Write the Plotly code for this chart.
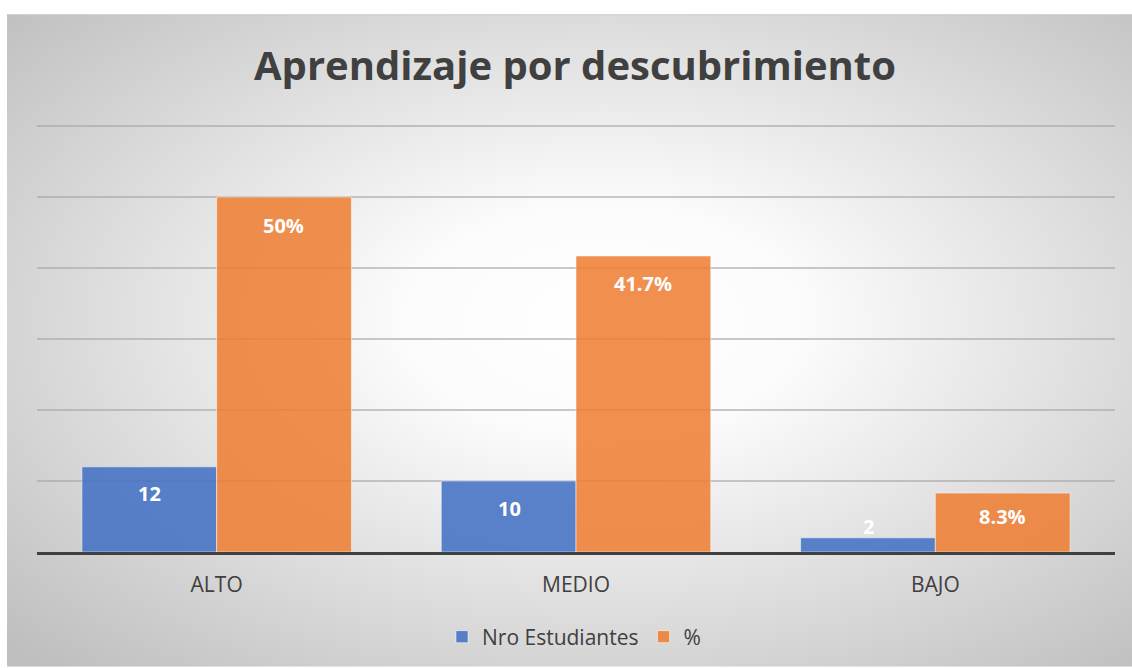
import base64
import plotly.graph_objects as go

categories = ["ALTO", "MEDIO", "BAJO"]
estudiantes = [12, 10, 2]
porcentaje = [50, 41.7, 8.3]
estudiantes_labels = ["12", "10", "2"]
porcentaje_labels = ["50%", "41.7%", "8.3%"]

W, H = 1132, 668
L, R, T, B = 37, 17, 119, 115
pw, ph = W - L - R, H - T - B
BASE = H - B

svg = """<svg xmlns='http://www.w3.org/2000/svg' width='1125' height='654' viewBox='0 0 1125 654' preserveAspectRatio='none'>
<defs><radialGradient id='g' cx='0.53' cy='0.47' r='0.72'>
<stop offset='0' stop-color='#ffffff'/>
<stop offset='0.25' stop-color='#fbfbfb'/>
<stop offset='1' stop-color='#bfbfbf'/>
</radialGradient></defs>
<rect x='0' y='0' width='1125' height='654' fill='url(#g)'/>
<line x1='0' y1='0.5' x2='1125' y2='0.5' stroke='#c8c8c8' stroke-width='1'/>
</svg>"""
src = "data:image/svg+xml;base64," + base64.b64encode(svg.encode()).decode()

blue = "rgba(68,114,196,0.88)"
orange = "rgba(237,125,49,0.86)"

fig = go.Figure()
fig.add_trace(go.Bar(x=categories, y=estudiantes, name="Nro Estudiantes",
                     marker=dict(color=blue, line=dict(color="rgba(255,255,255,0.5)", width=1))))
fig.add_trace(go.Bar(x=categories, y=porcentaje, name="%",
                     marker=dict(color=orange, line=dict(color="rgba(255,255,255,0.5)", width=1))))

shift = 67
yshifts_blue = [-27, -27, 11]
yshifts_orange = [-28, -27, -23]
lab_font = dict(family="Open Sans", size=20, color="white", weight="bold")
for i, c in enumerate(categories):
    fig.add_annotation(x=c, y=estudiantes[i], text=estudiantes_labels[i], showarrow=False,
                       xshift=-shift, yshift=yshifts_blue[i], yanchor="middle", font=lab_font)
    fig.add_annotation(x=c, y=porcentaje[i], text=porcentaje_labels[i], showarrow=False,
                       xshift=shift, yshift=yshifts_orange[i], yanchor="middle", font=lab_font)

fig.add_layout_image(dict(source=src, xref="paper", yref="paper",
                          x=(7 - L) / pw, y=(BASE - 14) / ph,
                          sizex=(W - 7) / pw, sizey=(H - 14) / ph,
                          xanchor="left", yanchor="top", sizing="stretch", layer="below"))

fig.update_layout(
    width=W, height=H,
    margin=dict(l=L, r=R, t=T, b=B, pad=0),
    paper_bgcolor="white", plot_bgcolor="rgba(0,0,0,0)",
    barmode="group", bargap=0.25, bargroupgap=0.0,
    title=dict(text="Aprendizaje por descubrimiento", x=575 / W, xanchor="center",
               y=1 - 66 / H, yanchor="middle", xref="container", yref="container",
               font=dict(family="Open Sans", size=40, color="#404040", weight="bold")),
    showlegend=True,
    legend=dict(orientation="h", x=(574 - L) / pw, xanchor="center",
                y=(BASE - 637) / ph, yanchor="middle",
                font=dict(family="Open Sans", size=21, color="#404040"),
                bgcolor="rgba(0,0,0,0)", itemwidth=30),
    font=dict(family="Open Sans", color="#404040"),
)
fig.update_xaxes(showline=True, linecolor="#404040", linewidth=3, ticks="",
                 tickfont=dict(family="Open Sans", size=21, color="#404040"),
                 ticklabelstandoff=12, showgrid=False)
fig.update_yaxes(range=[0, 61], tickvals=[10, 20, 30, 40, 50, 60], showticklabels=False,
                 showgrid=True, gridcolor="rgba(165,165,165,0.6)", gridwidth=1.5,
                 zeroline=False, showline=False)

fig.write_html("out.html", config={"displayModeBar": False},
               post_script="document.body.style.margin='0';")
